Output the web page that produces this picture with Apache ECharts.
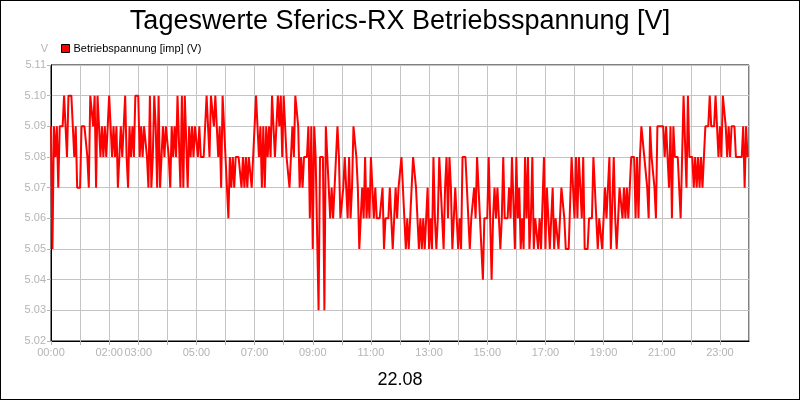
<!DOCTYPE html>
<html>
<head>
<meta charset="utf-8">
<title>Tageswerte Sferics-RX Betriebsspannung</title>
<script src="https://cdn.jsdelivr.net/npm/echarts@6/dist/echarts.min.js"></script>
<style>
    html, body { margin: 0; padding: 0; background: #fff; }
    #main { width: 800px; height: 400px; box-sizing: border-box; border: 1px solid #000; }
</style>
</head>
<body>
<div id="main"></div>
<script>
var sampleStepMin = 3;

// 00:00 - 05:57
var werte0006 = [
    5.09,5.05,5.09,5.08,5.09,5.07,5.09,5.09,5.09,5.10,5.10,5.08,5.10,5.10,5.10,5.09,5.08,5.09,5.07,5.07,
    5.07,5.09,5.09,5.09,5.09,5.08,5.07,5.10,5.10,5.09,5.10,5.07,5.10,5.09,5.08,5.09,5.08,5.09,5.08,5.09,
    5.10,5.09,5.08,5.09,5.08,5.09,5.07,5.08,5.09,5.08,5.09,5.10,5.08,5.07,5.09,5.08,5.09,5.08,5.10,5.10,
    5.10,5.08,5.09,5.08,5.09,5.09,5.08,5.07,5.10,5.07,5.08,5.10,5.09,5.07,5.10,5.07,5.08,5.09,5.08,5.09,
    5.09,5.08,5.07,5.09,5.08,5.09,5.08,5.10,5.10,5.07,5.10,5.07,5.10,5.10,5.07,5.09,5.08,5.09,5.08,5.09,
    5.09,5.08,5.09,5.08,5.08,5.08,5.08,5.10,5.09,5.08,5.10,5.10,5.09,5.10,5.09,5.08,5.09,5.07,5.10,5.10
];

// 06:00 - 11:57
var werte0612 = [
    5.08,5.07,5.06,5.08,5.07,5.08,5.07,5.08,5.08,5.08,5.08,5.07,5.08,5.07,5.08,5.07,5.08,5.08,5.07,5.08,
    5.09,5.10,5.10,5.08,5.09,5.07,5.09,5.07,5.09,5.08,5.09,5.08,5.10,5.10,5.08,5.08,5.10,5.09,5.10,5.08,
    5.10,5.09,5.08,5.08,5.07,5.08,5.09,5.08,5.10,5.10,5.09,5.07,5.08,5.07,5.08,5.08,5.08,5.09,5.06,5.09,
    5.05,5.09,5.08,5.08,5.03,5.08,5.08,5.08,5.03,5.09,5.09,5.07,5.06,5.07,5.06,5.06,5.08,5.09,5.08,5.06,
    5.06,5.07,5.08,5.08,5.06,5.08,5.06,5.07,5.09,5.09,5.08,5.07,5.05,5.05,5.07,5.06,5.08,5.06,5.07,5.06,
    5.08,5.07,5.06,5.07,5.06,5.06,5.06,5.06,5.07,5.05,5.06,5.06,5.06,5.07,5.06,5.05,5.06,5.07,5.06,5.07
];

// 12:00 - 17:57
var werte1218 = [
    5.07,5.08,5.08,5.06,5.05,5.06,5.05,5.06,5.07,5.08,5.08,5.07,5.06,5.05,5.06,5.05,5.06,5.05,5.06,5.07,
    5.05,5.06,5.05,5.08,5.06,5.05,5.06,5.08,5.07,5.06,5.05,5.07,5.08,5.06,5.08,5.07,5.05,5.05,5.07,5.07,
    5.05,5.06,5.05,5.08,5.08,5.08,5.07,5.06,5.05,5.06,5.06,5.07,5.06,5.08,5.08,5.06,5.05,5.04,5.06,5.06,
    5.06,5.08,5.08,5.04,5.06,5.07,5.06,5.07,5.06,5.05,5.06,5.08,5.06,5.06,5.06,5.07,5.06,5.08,5.08,5.05,
    5.08,5.06,5.07,5.05,5.06,5.05,5.08,5.06,5.08,5.05,5.06,5.08,5.05,5.06,5.06,5.05,5.06,5.05,5.05,5.08,
    5.05,5.07,5.06,5.05,5.06,5.07,5.05,5.06,5.06,5.05,5.06,5.07,5.07,5.06,5.05,5.05,5.05,5.05,5.08,5.08
];

// 18:00 - 23:57
var werte1824 = [
    5.06,5.08,5.06,5.08,5.08,5.06,5.08,5.05,5.05,5.05,5.06,5.06,5.06,5.08,5.08,5.06,5.05,5.06,5.06,5.05,
    5.05,5.07,5.06,5.06,5.08,5.05,5.05,5.08,5.06,5.05,5.06,5.07,5.07,5.06,5.07,5.06,5.07,5.06,5.07,5.08,
    5.08,5.08,5.06,5.08,5.06,5.08,5.09,5.09,5.08,5.08,5.07,5.06,5.09,5.08,5.08,5.07,5.06,5.09,5.09,5.09,
    5.09,5.09,5.08,5.09,5.09,5.07,5.09,5.06,5.09,5.08,5.08,5.08,5.08,5.06,5.08,5.10,5.10,5.07,5.10,5.08,
    5.08,5.08,5.07,5.08,5.07,5.08,5.07,5.08,5.07,5.07,5.09,5.09,5.09,5.10,5.09,5.09,5.09,5.10,5.09,5.08,
    5.09,5.08,5.10,5.10,5.09,5.08,5.09,5.08,5.09,5.09,5.09,5.08,5.08,5.08,5.08,5.08,5.09,5.07,5.09,5.08
];

var tickHours = [0, 2, 3, 5, 7, 9, 11, 13, 15, 17, 19, 21, 23];
var tickLabels = ['00:00','02:00','03:00','05:00','07:00','09:00','11:00','13:00','15:00','17:00','19:00','21:00','23:00'];

var werte = werte0006.concat(werte0612, werte1218, werte1824);
var punkte = werte.map(function (v, i) { return [i * sampleStepMin, v]; });

var grau = '#b4b4b4';
var myChart = echarts.init(document.getElementById('main'));

myChart.setOption({
    backgroundColor: '#fff',
    animation: false,
    title: {
        text: 'Tageswerte Sferics-RX Betriebsspannung [V]',
        left: 'center',
        top: 2,
        textStyle: { fontFamily: 'Liberation Sans', fontSize: 27, fontWeight: 'normal', color: '#000' }
    },
    legend: {
        left: 55,
        top: 37,
        icon: 'rect',
        itemWidth: 8,
        itemHeight: 8,
        itemGap: 4,
        itemStyle: { borderColor: '#000', borderWidth: 1 },
        textStyle: { fontFamily: 'Liberation Sans', fontSize: 11, color: '#000', padding: [0, 0, 0, -1] },
        data: ['Betriebspannung [imp] (V)']
    },
    grid: {
        left: 50,
        right: 50,
        top: 64,
        bottom: 58,
        show: true,
        borderColor: '#000',
        borderWidth: 1
    },
    xAxis: {
        type: 'value',
        min: 0,
        max: 1440,
        interval: 60,
        axisLine: { lineStyle: { color: '#000' } },
        axisTick: { show: true, length: 4, lineStyle: { color: grau } },
        splitLine: { show: true, lineStyle: { color: '#c4c4c4' } },
        axisLabel: {
            color: grau,
            fontFamily: 'Liberation Sans',
            fontSize: 11,
            margin: 6,
            showMaxLabel: false,
            formatter: function (v) {
                var k = tickHours.indexOf(v / 60);
                return k >= 0 ? tickLabels[k] : '';
            }
        },
        name: '22.08',
        nameLocation: 'middle',
        nameGap: 30,
        nameTextStyle: { fontFamily: 'Liberation Sans', fontSize: 18, color: '#000' }
    },
    yAxis: {
        type: 'value',
        min: 5.02,
        max: 5.11,
        interval: 0.01,
        name: 'V',
        nameGap: 11,
        nameTextStyle: { color: grau, fontFamily: 'Liberation Sans', fontSize: 11, align: 'right', padding: [0, 3, 0, 0] },
        axisLine: { show: true, lineStyle: { color: '#000' } },
        axisTick: { show: true, length: 4, lineStyle: { color: grau } },
        splitLine: { show: true, lineStyle: { color: '#c4c4c4' } },
        axisLabel: {
            color: grau,
            fontFamily: 'Liberation Sans',
            fontSize: 11,
            margin: 5,
            formatter: function (v) { return v.toFixed(2); }
        }
    },
    series: [{
        name: 'Betriebspannung [imp] (V)',
        type: 'line',
        data: punkte,
        showSymbol: false,
        symbol: 'none',
        color: '#ff0000',
        lineStyle: { color: '#ff0000', width: 2 }
    }]
});
</script>
</body>
</html>
